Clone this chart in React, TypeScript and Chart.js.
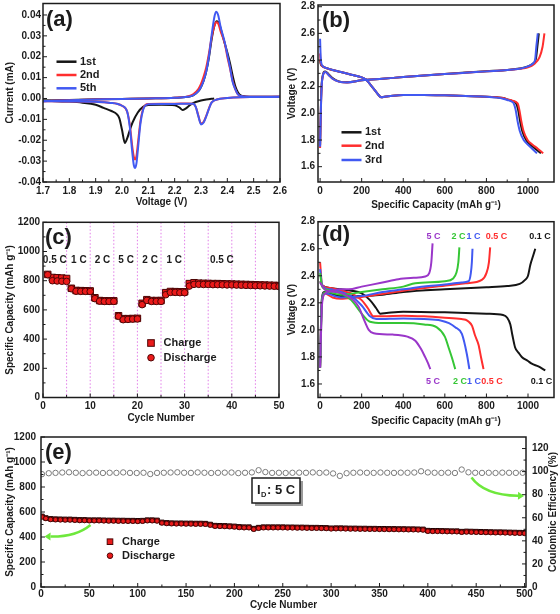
import React, { useEffect, useRef } from "react";
import { Chart, registerables } from "chart.js";

Chart.register(...registerables);

const FONT = "'Liberation Sans', Arial, Helvetica, sans-serif";
const INK = "#1c1c1c";
const C_BLACK = "#151515";
const C_RED = "#ff2e2e";
const C_BLUE = "#4159f2";
const C_GREEN = "#35c635";
const C_PURPLE = "#9a36c9";
const M_RED = "#ea1a1a";
const M_EDGE = "#4d0505";
const CE_EDGE = "#7a7a7a";
const ARROW = "#6ee83c";

// ---------------- (a) cyclic voltammetry ----------------
const aV1Cath = [1.70, 1.80, 1.85, 1.90, 1.93, 1.96, 1.98, 1.99, 2.00, 2.011, 2.02, 2.03, 2.04, 2.06, 2.08, 2.10, 2.15, 2.20, 2.22, 2.23, 2.24, 2.26, 2.28, 2.30, 2.32, 2.35];
const aI1Cath = [-0.0010, -0.0015, -0.0020, -0.0030, -0.0045, -0.0060, -0.0075, -0.0095, -0.0150, -0.0213, -0.0190, -0.0150, -0.0115, -0.0067, -0.0040, -0.0031, -0.0030, -0.0032, -0.0045, -0.0055, -0.0050, -0.0030, -0.0017, -0.0010, -0.0005, 0.0000];
const aV1Anod = [1.70, 1.80, 1.90, 2.00, 2.10, 2.20, 2.25, 2.27, 2.29, 2.30, 2.31, 2.32, 2.33, 2.34, 2.35, 2.36, 2.37, 2.38, 2.39, 2.40, 2.41, 2.42, 2.43, 2.44, 2.45, 2.47, 2.50, 2.60];
const aI1Anod = [-0.0010, -0.0007, -0.0004, -0.0002, 0.0000, 0.0003, 0.0008, 0.0015, 0.0035, 0.0055, 0.0085, 0.0130, 0.0195, 0.0280, 0.0345, 0.0370, 0.0355, 0.0310, 0.0265, 0.0220, 0.0170, 0.0110, 0.0060, 0.0030, 0.0015, 0.0010, 0.0008, 0.0008];
const aVCath = [1.70, 1.80, 1.90, 1.95, 2.00, 2.02, 2.03, 2.04, 2.045, 2.05, 2.055, 2.06, 2.07, 2.08, 2.09, 2.10, 2.15, 2.20, 2.25, 2.27, 2.28, 2.29, 2.30, 2.31, 2.32, 2.33, 2.34, 2.36, 2.40, 2.45, 2.50, 2.60];
const aI2Cath = [-0.0013, -0.0014, -0.0016, -0.0020, -0.0035, -0.0065, -0.0130, -0.0240, -0.0280, -0.0292, -0.0275, -0.0220, -0.0110, -0.0050, -0.0030, -0.0026, -0.0025, -0.0025, -0.0024, -0.0025, -0.0040, -0.0082, -0.0120, -0.0112, -0.0083, -0.0048, -0.0020, -0.0005, 0.0002, 0.0006, 0.0007, 0.0008];
const aI5Cath = [-0.0013, -0.0014, -0.0016, -0.0020, -0.0035, -0.0065, -0.0140, -0.0270, -0.0320, -0.0333, -0.0310, -0.0250, -0.0120, -0.0055, -0.0032, -0.0027, -0.0026, -0.0026, -0.0025, -0.0025, -0.0040, -0.0085, -0.0124, -0.0115, -0.0085, -0.0050, -0.0020, -0.0005, 0.0002, 0.0006, 0.0007, 0.0008];
const aVAnod = [1.70, 1.80, 1.90, 2.00, 2.10, 2.20, 2.25, 2.27, 2.29, 2.30, 2.31, 2.32, 2.33, 2.34, 2.35, 2.357, 2.365, 2.375, 2.39, 2.40, 2.41, 2.42, 2.43, 2.44, 2.46, 2.50, 2.60];
const aI2Anod = [-0.0013, -0.0008, -0.0005, -0.0002, 0.0000, 0.0004, 0.0010, 0.0020, 0.0045, 0.0070, 0.0105, 0.0150, 0.0215, 0.0290, 0.0345, 0.0365, 0.0360, 0.0320, 0.0265, 0.0200, 0.0145, 0.0085, 0.0045, 0.0020, 0.0010, 0.0008, 0.0008];
const aI5Anod = [-0.0013, -0.0008, -0.0005, -0.0002, 0.0000, 0.0003, 0.0008, 0.0015, 0.0035, 0.0055, 0.0085, 0.0130, 0.0200, 0.0300, 0.0385, 0.0415, 0.0400, 0.0340, 0.0270, 0.0210, 0.0150, 0.0080, 0.0045, 0.0020, 0.0010, 0.0008, 0.0008];
const aLegend = ["1st", "2nd", "5th"];

// ---------------- (b) charge/discharge profiles ----------------
const bCap1Dis = [0, 3, 10, 30, 60, 100, 150, 200, 220, 240, 260, 280, 295, 310, 350, 400, 500, 600, 700, 800, 850, 880, 900, 920, 943, 952, 962, 972, 991, 1012, 1035, 1062];
const bV1Dis = [2.40, 2.37, 2.355, 2.34, 2.325, 2.31, 2.29, 2.27, 2.255, 2.22, 2.18, 2.14, 2.12, 2.125, 2.133, 2.138, 2.138, 2.135, 2.13, 2.125, 2.12, 2.115, 2.105, 2.095, 2.075, 2.03, 1.94, 1.87, 1.80, 1.765, 1.735, 1.70];
const bCap2Dis = [0, 3, 10, 30, 60, 100, 150, 200, 220, 240, 260, 280, 295, 310, 350, 400, 500, 600, 700, 800, 850, 880, 900, 925, 950, 958, 968, 978, 998, 1022, 1047, 1073];
const bV2Dis = [2.45, 2.38, 2.355, 2.34, 2.325, 2.31, 2.29, 2.27, 2.255, 2.22, 2.18, 2.14, 2.12, 2.125, 2.133, 2.138, 2.138, 2.135, 2.13, 2.125, 2.12, 2.115, 2.105, 2.095, 2.075, 2.03, 1.94, 1.87, 1.80, 1.765, 1.735, 1.70];
const bCap3Dis = [0, 3, 10, 30, 60, 100, 150, 200, 220, 240, 260, 280, 295, 310, 350, 400, 500, 600, 700, 800, 850, 880, 900, 920, 931, 940, 950, 960, 979, 1000, 1020, 1043];
const bV3Dis = [2.56, 2.42, 2.36, 2.34, 2.325, 2.31, 2.29, 2.27, 2.255, 2.22, 2.18, 2.14, 2.12, 2.125, 2.133, 2.138, 2.138, 2.135, 2.13, 2.125, 2.118, 2.11, 2.10, 2.09, 2.075, 2.03, 1.94, 1.87, 1.80, 1.765, 1.735, 1.70];
const bCap1Chg = [0, 5, 10, 25, 40, 60, 90, 130, 200, 300, 400, 500, 600, 700, 800, 900, 960, 1000, 1025, 1038, 1045, 1052];
const bV1Chg = [1.76, 2.12, 2.26, 2.315, 2.295, 2.265, 2.24, 2.233, 2.248, 2.26, 2.272, 2.284, 2.296, 2.306, 2.316, 2.326, 2.336, 2.352, 2.375, 2.41, 2.50, 2.60];
const bCap2Chg = [0, 5, 10, 25, 40, 60, 90, 130, 200, 300, 400, 500, 600, 700, 800, 900, 960, 1000, 1030, 1055, 1070, 1079];
const bV2Chg = [1.74, 2.10, 2.25, 2.31, 2.29, 2.26, 2.238, 2.232, 2.248, 2.26, 2.272, 2.284, 2.295, 2.305, 2.315, 2.325, 2.335, 2.345, 2.37, 2.42, 2.50, 2.60];
const bCap3Chg = [0, 5, 10, 25, 40, 60, 90, 130, 200, 300, 400, 500, 600, 700, 800, 900, 960, 1000, 1020, 1034, 1040, 1047];
const bV3Chg = [1.75, 2.10, 2.25, 2.31, 2.29, 2.26, 2.238, 2.232, 2.248, 2.26, 2.272, 2.284, 2.295, 2.305, 2.315, 2.325, 2.335, 2.352, 2.37, 2.40, 2.50, 2.60];
const bLegend = ["1st", "2nd", "3rd"];

// ---------------- (c) rate capability ----------------
const cCycles = [1, 2, 3, 4, 5, 6, 7, 8, 9, 10, 11, 12, 13, 14, 15, 16, 17, 18, 19, 20, 21, 22, 23, 24, 25, 26, 27, 28, 29, 30, 31, 32, 33, 34, 35, 36, 37, 38, 39, 40, 41, 42, 43, 44, 45, 46, 47, 48, 49, 50];
const cCharge = [843, 822, 820, 818, 815, 748, 733, 732, 731, 730, 683, 664, 662, 662, 662, 560, 540, 540, 541, 542, 645, 670, 664, 664, 664, 718, 726, 725, 724, 724, 780, 786, 783, 782, 781, 780, 780, 779, 778, 777, 776, 775, 774, 773, 772, 771, 770, 769, 768, 766];
const cDischarge = [841, 800, 798, 796, 795, 745, 728, 727, 727, 726, 677, 660, 658, 658, 658, 556, 533, 535, 537, 538, 636, 665, 658, 658, 658, 704, 720, 720, 718, 718, 763, 775, 775, 774, 774, 773, 773, 772, 771, 771, 770, 769, 768, 767, 766, 765, 764, 763, 762, 760];
const cRateBounds = [5, 10, 15, 20, 25, 30, 35, 40, 45];
const cRateLabels = ["0.5 C", "1 C", "2 C", "5 C", "2 C", "1 C", "0.5 C"];
const cRateAt = [2.5, 7.6, 12.6, 17.6, 22.7, 27.8, 37.9];

// ---------------- (d) rate profiles ----------------
const dCap01Dis = [0, 10, 50, 100, 150, 200, 240, 270, 290, 320, 400, 600, 800, 880, 900, 915, 925, 938, 955, 970, 1000, 1018, 1050, 1083];
const dV01Dis = [2.36, 2.33, 2.31, 2.30, 2.29, 2.27, 2.22, 2.16, 2.12, 2.125, 2.135, 2.13, 2.12, 2.11, 2.09, 2.04, 1.96, 1.87, 1.83, 1.80, 1.77, 1.75, 1.73, 1.70];
const dCap01Chg = [0, 8, 20, 50, 100, 200, 300, 400, 600, 800, 900, 960, 986, 1000, 1011, 1025, 1035];
const dV01Chg = [1.72, 2.22, 2.28, 2.27, 2.25, 2.25, 2.26, 2.28, 2.30, 2.315, 2.325, 2.34, 2.37, 2.40, 2.48, 2.55, 2.60];
const dCap05Dis = [0, 10, 50, 100, 150, 200, 230, 257, 300, 400, 500, 600, 680, 700, 715, 731, 745, 762, 775, 786];
const dV05Dis = [2.50, 2.33, 2.31, 2.29, 2.27, 2.22, 2.16, 2.10, 2.10, 2.105, 2.10, 2.09, 2.08, 2.075, 2.06, 2.03, 1.96, 1.89, 1.79, 1.71];
const dCap05Chg = [0, 8, 20, 60, 100, 150, 250, 400, 617, 700, 778, 800, 812, 818];
const dV05Chg = [1.72, 2.20, 2.27, 2.24, 2.23, 2.235, 2.255, 2.29, 2.33, 2.345, 2.37, 2.42, 2.50, 2.61];
const dCap1Dis = [0, 10, 50, 100, 150, 200, 240, 270, 400, 500, 580, 620, 650, 682, 706, 718];
const dV1Dis = [2.45, 2.33, 2.30, 2.28, 2.25, 2.18, 2.10, 2.08, 2.085, 2.08, 2.07, 2.05, 2.02, 1.97, 1.82, 1.71];
const dCap1Chg = [0, 8, 20, 100, 200, 300, 400, 500, 600, 680, 715, 725, 730, 733];
const dV1Chg = [1.72, 2.20, 2.27, 2.24, 2.25, 2.28, 2.30, 2.32, 2.335, 2.35, 2.36, 2.42, 2.50, 2.60];
const dCap2Dis = [0, 10, 50, 100, 150, 200, 240, 300, 400, 500, 560, 600, 618, 635, 650];
const dV2Dis = [2.42, 2.32, 2.29, 2.27, 2.22, 2.12, 2.06, 2.05, 2.05, 2.04, 2.02, 1.95, 1.87, 1.79, 1.71];
const dCap2Chg = [0, 10, 30, 100, 200, 300, 400, 458, 600, 640, 655, 665, 670];
const dV2Chg = [1.72, 2.22, 2.28, 2.26, 2.28, 2.30, 2.32, 2.345, 2.36, 2.38, 2.42, 2.50, 2.61];
const dCap5Dis = [0, 30, 80, 120, 160, 186, 210, 234, 258, 350, 420, 458, 485, 505, 520, 530];
const dV5Dis = [2.35, 2.29, 2.28, 2.26, 2.22, 2.17, 2.08, 2.00, 1.975, 1.965, 1.95, 1.92, 1.86, 1.80, 1.75, 1.71];
const dCap5Chg = [0, 10, 25, 60, 100, 138, 200, 300, 377, 450, 506, 525, 535, 541];
const dV5Chg = [1.72, 2.20, 2.27, 2.29, 2.30, 2.30, 2.32, 2.35, 2.375, 2.385, 2.395, 2.42, 2.50, 2.64];

// ---------------- (e) long cycling at 5 C ----------------
const eCycles = [1, 5, 10, 15, 20, 25, 30, 35, 40, 45,
  50, 55, 60, 65, 70, 75, 80, 85, 90, 95,
  100, 105, 110, 115, 120, 125, 130, 135, 140, 145,
  150, 155, 160, 165, 170, 175, 180, 185, 190, 195,
  200, 205, 210, 215, 220, 225, 230, 235, 240, 245,
  250, 255, 260, 265, 270, 275, 280, 285, 290, 295,
  300, 305, 310, 315, 320, 325, 330, 335, 340, 345,
  350, 355, 360, 365, 370, 375, 380, 385, 390, 395,
  400, 405, 410, 415, 420, 425, 430, 435, 440, 445,
  450, 455, 460, 465, 470, 475, 480, 485, 490, 495, 500];
const eDischarge = [560, 548, 540, 538, 537, 536, 536, 534, 532, 532,
  530, 530, 530, 529, 528, 528, 527, 527, 526, 526,
  525, 526, 530, 530, 528, 512, 508, 506, 505, 505,
  504, 504, 503, 503, 502, 495, 486, 485, 484, 482,
  480, 476, 474, 474, 462, 470, 474, 474, 474, 474,
  474, 473, 473, 472, 472, 471, 470, 470, 469, 468,
  465, 466, 466, 465, 464, 464, 463, 463, 462, 462,
  461, 461, 460, 460, 459, 459, 458, 458, 457, 456,
  446, 445, 445, 444, 443, 442, 442, 438, 440, 439,
  438, 437, 436, 435, 434, 434, 433, 432, 431, 430, 429];
const eCharge = [565, 552, 545, 543, 542, 541, 541, 539, 537, 537,
  535, 535, 535, 534, 533, 533, 532, 532, 531, 531,
  530, 531, 535, 535, 533, 517, 513, 511, 510, 510,
  509, 509, 508, 508, 507, 500, 491, 490, 489, 487,
  485, 481, 479, 479, 467, 475, 479, 479, 479, 479,
  479, 478, 478, 477, 477, 476, 475, 475, 474, 473,
  470, 471, 471, 470, 469, 469, 468, 468, 467, 467,
  466, 466, 465, 465, 464, 464, 463, 463, 462, 461,
  451, 450, 450, 449, 448, 447, 447, 443, 445, 444,
  443, 442, 441, 440, 439, 439, 438, 437, 436, 435, 434];
const eCECycles = [1, 8, 15, 22, 29, 36, 43, 50, 57, 64,
  71, 78, 85, 92, 99, 106, 113, 120, 127, 134,
  141, 148, 155, 162, 169, 176, 183, 190, 197, 204,
  211, 218, 225, 232, 239, 246, 253, 260, 267, 274,
  281, 288, 295, 302, 309, 316, 323, 330, 337, 344,
  351, 358, 365, 372, 379, 386, 393, 400, 407, 414,
  421, 428, 435, 442, 449, 456, 463, 470, 477, 484,
  491, 498];
const eCE = [97.8, 98.6, 98.9, 99.2, 99.4, 99.0, 98.7, 99.0, 99.1, 98.8,
  99.0, 98.9, 99.3, 98.9, 98.8, 99.0, 97.9, 98.9, 99.0, 99.2,
  99.4, 99.0, 98.9, 99.3, 99.0, 98.8, 99.0, 99.1, 99.2, 98.7,
  99.0, 99.3, 101.2, 99.6, 98.9, 99.0, 98.8, 99.0, 99.1, 99.0,
  99.3, 98.9, 99.2, 98.4, 96.3, 98.6, 99.0, 99.2, 99.0, 98.9,
  99.2, 99.0, 98.9, 99.1, 99.0, 99.2, 100.3, 99.3, 99.0, 98.9,
  99.1, 98.8, 101.8, 99.4, 99.0, 98.9, 99.0, 98.8, 99.1, 99.0,
  98.9, 99.0];

// ---------------- helpers ----------------
type Box = { cl: number; ct: number; cw: number; ch: number; l: number; t: number; r: number; b: number; rw?: number };

const xy = (xs: number[], ys: number[]) => xs.map((x, i) => ({ x, y: ys[i] }));

function axis(p: any) {
  const horiz = p.pos === "bottom";
  return {
    type: "linear",
    position: p.pos,
    min: p.min,
    max: p.max,
    afterBuildTicks: (s: any) => {
      const out: any[] = [];
      const first = Math.ceil(p.min / p.step - 1e-9);
      const last = Math.floor(p.max / p.step + 1e-9);
      for (let k = first; k <= last; k++) out.push({ value: Number((k * p.step).toFixed(6)) });
      s.ticks = out;
    },
    afterFit: (s: any) => {
      if (horiz) s.height = p.size;
      else s.width = p.size;
    },
    ticks: {
      stepSize: p.step,
      autoSkip: false,
      maxRotation: 0,
      minRotation: 0,
      padding: p.pad,
      color: INK,
      font: { family: FONT, size: 10, weight: "bold" },
      callback: (v: any) => {
        const n = Math.abs(Number(v)) < 1e-9 ? 0 : Number(v);
        return n.toFixed(p.dec);
      },
    },
    grid: { display: false, drawTicks: false, tickLength: 0 },
    border: { display: false },
    title: p.title
      ? { display: true, text: p.title, color: INK, font: { family: FONT, size: 10, weight: "bold" }, padding: { top: 4, bottom: 4 } }
      : { display: false },
  };
}

function txt(ctx: CanvasRenderingContext2D, s: string, x: number, y: number, size: number, color = INK, align: CanvasTextAlign = "left") {
  ctx.font = `bold ${size}px ${FONT}`;
  ctx.fillStyle = color;
  ctx.textAlign = align;
  ctx.textBaseline = "middle";
  ctx.fillText(s, x, y);
}

function frame(box: Box, deco?: any, under?: any) {
  const P = { x: (v: number) => v - box.cl, y: (v: number) => v - box.ct };
  return {
    id: "frame",
    beforeDatasetsDraw(chart: any) {
      if (!under) return;
      const ctx = chart.ctx;
      ctx.save();
      under(ctx, chart);
      ctx.restore();
    },
    afterDraw(chart: any) {
      const ctx = chart.ctx;
      const a = chart.chartArea;
      ctx.save();
      ctx.strokeStyle = INK;
      ctx.lineWidth = 1;
      for (const id of Object.keys(chart.scales)) {
        const s = chart.scales[id];
        const vals = s.ticks.map((t: any) => t.value);
        const marks: number[][] = vals.map((v: number) => [v, 4]);
        for (let i = 0; i < vals.length - 1; i++) marks.push([(vals[i] + vals[i + 1]) / 2, 2.5]);
        ctx.beginPath();
        for (const [v, len] of marks) {
          const p = s.getPixelForValue(v);
          if (s.position === "bottom") {
            ctx.moveTo(p, a.bottom);
            ctx.lineTo(p, a.bottom - len);
          } else if (s.position === "left") {
            ctx.moveTo(a.left, p);
            ctx.lineTo(a.left + len, p);
          } else {
            ctx.moveTo(a.right, p);
            ctx.lineTo(a.right - len, p);
          }
        }
        ctx.stroke();
      }
      ctx.lineWidth = 1.5;
      ctx.strokeRect(a.left, a.top, a.right - a.left, a.bottom - a.top);
      if (deco) deco(ctx, P, chart);
      ctx.restore();
    },
  };
}

function curve(xs: number[], ys: number[], color: string, w = 2) {
  return {
    data: xy(xs, ys),
    borderColor: color,
    backgroundColor: color,
    borderWidth: w,
    showLine: true,
    pointRadius: 0,
    cubicInterpolationMode: "monotone",
    fill: false,
  };
}

function marks(xs: number[], ys: number[], style: string, r: number, bg: string, edge: string, yAxisID = "y") {
  return {
    data: xy(xs, ys),
    pointStyle: style,
    pointRadius: r,
    pointBackgroundColor: bg,
    pointBorderColor: edge,
    pointBorderWidth: 1,
    showLine: false,
    yAxisID,
  };
}

function makeChart(box: Box, datasets: any[], scales: any, deco?: any, under?: any) {
  return {
    type: "scatter",
    data: { datasets },
    options: {
      animation: false,
      responsive: false,
      events: [],
      layout: { padding: { left: 0, top: box.t - box.ct, right: box.cl + box.cw - box.r - (box.rw || 0), bottom: 0 } },
      scales,
      plugins: { legend: { display: false }, tooltip: { enabled: false } },
    },
    plugins: [frame(box, deco, under)],
  };
}

function lineLegend(ctx: CanvasRenderingContext2D, P: any, labels: string[], colors: string[], x0: number, x1: number, ys: number[]) {
  labels.forEach((lab, i) => {
    ctx.strokeStyle = colors[i];
    ctx.lineWidth = 2.5;
    ctx.beginPath();
    ctx.moveTo(P.x(x0), P.y(ys[i]));
    ctx.lineTo(P.x(x1), P.y(ys[i]));
    ctx.stroke();
    txt(ctx, lab, P.x(x1 + 3.5), P.y(ys[i]), 11);
  });
}

function markerLegend(ctx: CanvasRenderingContext2D, P: any, x: number, y1: number, y2: number, tx: number, half: number) {
  ctx.fillStyle = M_RED;
  ctx.strokeStyle = M_EDGE;
  ctx.lineWidth = 1;
  ctx.fillRect(P.x(x - half), P.y(y1 - half), half * 2, half * 2);
  ctx.strokeRect(P.x(x - half), P.y(y1 - half), half * 2, half * 2);
  ctx.beginPath();
  ctx.arc(P.x(x), P.y(y2), half, 0, Math.PI * 2);
  ctx.fill();
  ctx.stroke();
  txt(ctx, "Charge", P.x(tx), P.y(y1), 11);
  txt(ctx, "Discharge", P.x(tx), P.y(y2), 11);
}

function arrow(ctx: CanvasRenderingContext2D, sx: number, sy: number, cx: number, cy: number, ex: number, ey: number) {
  ctx.strokeStyle = ARROW;
  ctx.fillStyle = ARROW;
  ctx.lineWidth = 2.5;
  const ang = Math.atan2(ey - cy, ex - cx);
  const bx = ex - Math.cos(ang) * 6;
  const by = ey - Math.sin(ang) * 6;
  ctx.beginPath();
  ctx.moveTo(sx, sy);
  ctx.quadraticCurveTo(cx, cy, bx, by);
  ctx.stroke();
  ctx.beginPath();
  ctx.moveTo(ex, ey);
  ctx.lineTo(bx - Math.sin(ang) * 4, by + Math.cos(ang) * 4);
  ctx.lineTo(bx + Math.sin(ang) * 4, by - Math.cos(ang) * 4);
  ctx.closePath();
  ctx.fill();
}

// ---------------- panels ----------------
const boxA: Box = { cl: 0, ct: -15, cw: 300, ch: 227, l: 43, t: 3.5, r: 280, b: 182 };
const boxB: Box = { cl: 282, ct: -15, cw: 290, ch: 230, l: 318, t: 5, r: 554, b: 182 };
const boxC: Box = { cl: 0, ct: 200, cw: 300, ch: 228, l: 43, t: 222.3, r: 279, b: 397.5 };
const boxD: Box = { cl: 282, ct: 200, cw: 290, ch: 231, l: 318, t: 221.7, r: 554, b: 397.5 };
const boxE: Box = { cl: 0, ct: 415, cw: 575, ch: 200, l: 41, t: 437, r: 526, b: 587, rw: 34 };

const xH = (b: Box) => b.ct + b.ch - b.b;
const yW = (b: Box) => b.l - b.cl;

function makeA(box: Box) {
  const ds = [
    curve(aVCath, aI5Cath, C_BLUE), curve(aVAnod, aI5Anod, C_BLUE),
    curve(aVCath, aI2Cath, C_RED), curve(aVAnod, aI2Anod, C_RED),
    curve(aV1Cath, aI1Cath, C_BLACK), curve(aV1Anod, aI1Anod, C_BLACK),
  ];
  const scales = {
    x: axis({ pos: "bottom", min: 1.7, max: 2.6, step: 0.1, dec: 1, pad: 3, size: xH(box), title: "Voltage (V)" }),
    y: axis({ pos: "left", min: -0.04, max: 0.0455, step: 0.01, dec: 2, pad: 2, size: yW(box), title: "Current (mA)" }),
  };
  const deco = (ctx: CanvasRenderingContext2D, P: any) => {
    txt(ctx, "(a)", P.x(46), P.y(19.5), 22);
    lineLegend(ctx, P, aLegend, [C_BLACK, C_RED, C_BLUE], 56.5, 76.5, [61.7, 75, 88.3]);
  };
  return makeChart(box, ds, scales, deco);
}

function makeB(box: Box) {
  const ds = [
    curve(bCap3Dis, bV3Dis, C_BLUE), curve(bCap3Chg, bV3Chg, C_BLUE),
    curve(bCap2Dis, bV2Dis, C_RED), curve(bCap2Chg, bV2Chg, C_RED),
    curve(bCap1Dis, bV1Dis, C_BLACK), curve(bCap1Chg, bV1Chg, C_BLACK),
  ];
  const scales = {
    x: axis({ pos: "bottom", min: -10, max: 1125, step: 200, dec: 0, pad: 3, size: xH(box), title: "Specific Capacity (mAh g⁻¹)" }),
    y: axis({ pos: "left", min: 1.485, max: 2.813, step: 0.2, dec: 1, pad: 3, size: yW(box), title: "Voltage (V)" }),
  };
  const deco = (ctx: CanvasRenderingContext2D, P: any) => {
    txt(ctx, "(b)", P.x(322), P.y(20.5), 22);
    lineLegend(ctx, P, bLegend, [C_BLACK, C_RED, C_BLUE], 341.5, 361.5, [132.3, 145.7, 160]);
  };
  return makeChart(box, ds, scales, deco);
}

function makeC(box: Box) {
  const ds = [
    marks(cCycles, cDischarge, "circle", 3.3, M_RED, M_EDGE),
    marks(cCycles, cCharge, "rect", 4.6, M_RED, M_EDGE),
  ];
  const scales = {
    x: axis({ pos: "bottom", min: 0, max: 50, step: 10, dec: 0, pad: 3, size: xH(box), title: "Cycle Number" }),
    y: axis({ pos: "left", min: 0, max: 1200, step: 200, dec: 0, pad: 3, size: yW(box), title: "Specific Capacity (mAh g⁻¹)" }),
  };
  const under = (ctx: CanvasRenderingContext2D, chart: any) => {
    const s = chart.scales.x;
    const a = chart.chartArea;
    ctx.strokeStyle = "#e27ee8";
    ctx.lineWidth = 1;
    ctx.setLineDash([1.5, 2]);
    for (const c of cRateBounds) {
      const p = s.getPixelForValue(c);
      ctx.beginPath();
      ctx.moveTo(p, a.top);
      ctx.lineTo(p, a.bottom);
      ctx.stroke();
    }
  };
  const deco = (ctx: CanvasRenderingContext2D, P: any, chart: any) => {
    txt(ctx, "(c)", P.x(45), P.y(237.5), 22);
    const s = chart.scales.x;
    cRateLabels.forEach((lab, i) => txt(ctx, lab, s.getPixelForValue(cRateAt[i]), P.y(260), 10, INK, "center"));
    markerLegend(ctx, P, 151, 343, 357.7, 163.5, 3.3);
  };
  return makeChart(box, ds, scales, deco, under);
}

function makeD(box: Box) {
  const ds = [
    curve(dCap5Dis, dV5Dis, C_PURPLE), curve(dCap5Chg, dV5Chg, C_PURPLE),
    curve(dCap2Dis, dV2Dis, C_GREEN), curve(dCap2Chg, dV2Chg, C_GREEN),
    curve(dCap1Dis, dV1Dis, C_BLUE), curve(dCap1Chg, dV1Chg, C_BLUE),
    curve(dCap05Dis, dV05Dis, C_RED), curve(dCap05Chg, dV05Chg, C_RED),
    curve(dCap01Dis, dV01Dis, C_BLACK), curve(dCap01Chg, dV01Chg, C_BLACK),
  ];
  const scales = {
    x: axis({ pos: "bottom", min: -10, max: 1125, step: 200, dec: 0, pad: 3, size: xH(box), title: "Specific Capacity (mAh g⁻¹)" }),
    y: axis({ pos: "left", min: 1.5, max: 2.8, step: 0.2, dec: 1, pad: 3, size: yW(box), title: "Voltage (V)" }),
  };
  const deco = (ctx: CanvasRenderingContext2D, P: any) => {
    txt(ctx, "(d)", P.x(322), P.y(235), 22);
    const top: [string, string, number][] = [["5 C", C_PURPLE, 433.5], ["2 C", C_GREEN, 458.5], ["1 C", C_BLUE, 473.5], ["0.5 C", C_RED, 496.5], ["0.1 C", C_BLACK, 540]];
    const bot: [string, string, number][] = [["5 C", C_PURPLE, 433], ["2 C", C_GREEN, 460], ["1 C", C_BLUE, 474], ["0.5 C", C_RED, 492], ["0.1 C", C_BLACK, 541.5]];
    top.forEach(([s, c, x]) => txt(ctx, s, P.x(x), P.y(237), 9, c, "center"));
    bot.forEach(([s, c, x]) => txt(ctx, s, P.x(x), P.y(382), 9, c, "center"));
  };
  return makeChart(box, ds, scales, deco);
}

function makeE(box: Box) {
  const ds = [
    marks(eCycles, eDischarge, "circle", 2.3, M_RED, M_EDGE),
    marks(eCycles, eCharge, "rect", 3.2, M_RED, "#1a0000"),
    marks(eCECycles, eCE, "circle", 2.7, "#ffffff", CE_EDGE, "y1"),
  ];
  const scales = {
    x: axis({ pos: "bottom", min: 0, max: 501.5, step: 50, dec: 0, pad: 1, size: xH(box), title: "Cycle Number" }),
    y: axis({ pos: "left", min: 0, max: 1200, step: 200, dec: 0, pad: 5, size: yW(box), title: "Specific Capacity (mAh g⁻¹)" }),
    y1: axis({ pos: "right", min: 0, max: 130, step: 20, dec: 0, pad: 6, size: box.rw }),
  };
  const deco = (ctx: CanvasRenderingContext2D, P: any) => {
    txt(ctx, "(e)", P.x(45), P.y(452.5), 22);
    markerLegend(ctx, P, 110, 541.7, 555.7, 122, 2.8);
    // I_D box
    ctx.fillStyle = "#9a9a9a";
    ctx.fillRect(P.x(255), P.y(481), 48, 25);
    ctx.fillStyle = "#ffffff";
    ctx.fillRect(P.x(252), P.y(478), 48, 25);
    ctx.strokeStyle = INK;
    ctx.lineWidth = 1.5;
    ctx.strokeRect(P.x(252), P.y(478), 48, 25);
    txt(ctx, "I", P.x(257), P.y(490.5), 13);
    ctx.font = `bold 13px ${FONT}`;
    const wI = ctx.measureText("I").width;
    txt(ctx, "D", P.x(257) + wI + 0.5, P.y(494.5), 7.5);
    ctx.font = `bold 7.5px ${FONT}`;
    const wD = ctx.measureText("D").width;
    txt(ctx, ": 5 C", P.x(257) + wI + wD + 1, P.y(490.5), 13);
    // arrows
    arrow(ctx, P.x(90.5), P.y(525), P.x(76), P.y(537), P.x(44.5), P.y(536.5));
    arrow(ctx, P.x(471.5), P.y(477.5), P.x(484), P.y(495), P.x(524), P.y(496));
    // right axis title (bottom-to-top)
    ctx.save();
    ctx.translate(P.x(553), P.y(512));
    ctx.rotate(-Math.PI / 2);
    txt(ctx, "Coulombic Efficiency (%)", 0, 0, 10, INK, "center");
    ctx.restore();
  };
  return makeChart(box, ds, scales, deco);
}

function Panel({ box, make }: { box: Box; make: (b: Box) => any }) {
  const ref = useRef<HTMLCanvasElement>(null);
  useEffect(() => {
    const chart = new Chart(ref.current as HTMLCanvasElement, make(box));
    return () => chart.destroy();
  }, []);
  return (
    <canvas
      ref={ref}
      width={box.cw}
      height={box.ch}
      style={{ position: "absolute", left: box.cl, top: box.ct, width: box.cw, height: box.ch }}
    />
  );
}

export default function App() {
  return (
    <div style={{ position: "absolute", left: 0, top: 0, width: 560, height: 614, overflow: "hidden", background: "#ffffff" }}>
      <Panel box={boxA} make={makeA} />
      <Panel box={boxB} make={makeB} />
      <Panel box={boxC} make={makeC} />
      <Panel box={boxD} make={makeD} />
      <Panel box={boxE} make={makeE} />
    </div>
  );
}
